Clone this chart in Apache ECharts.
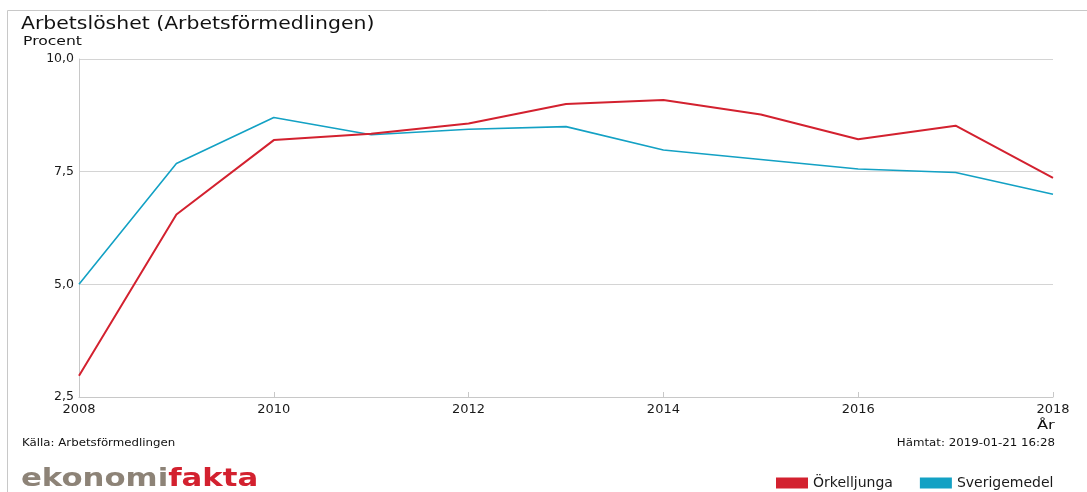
<!DOCTYPE html>
<html>
<head>
<meta charset="utf-8">
<script src="https://cdn.jsdelivr.net/npm/echarts@6/dist/echarts.min.js"></script>
<style>
  html, body { margin: 0; padding: 0; background: #fff; }
  #chart { width: 1087px; height: 492px; }
</style>
</head>
<body>
<div id="chart"></div>
<script>
  // år och värden
  const years = [2008, 2009, 2010, 2011, 2012, 2013, 2014, 2015, 2016, 2017, 2018];
  const orkelljunga = [2.97, 6.55, 8.2, 8.34, 8.57, 9.0, 9.09, 8.77, 8.22, 8.52, 7.36];
  const sverigemedel = [5.0, 7.68, 8.7, 8.32, 8.44, 8.5, 7.98, 7.77, 7.56, 7.48, 7.0];
  const seriesNames = ['Örkelljunga', 'Sverigemedel'];
  const seriesColors = ['#d3212f', '#13a1c4'];

  const chart = echarts.init(document.getElementById('chart'));
  const font = '"DejaVu Sans", Arial, sans-serif';

  // hjälp för breda texter (originalet är horisontellt utdraget)
  const label = (text, x, y, size, opts = {}) => ({
    type: 'text',
    x: x,
    y: y,
    scaleX: opts.scaleX || 1.2,
    style: {
      text: text,
      fill: opts.fill || '#111',
      font: (opts.weight || 'normal') + ' ' + size + 'px ' + font,
      align: opts.align || 'left',
      verticalAlign: 'middle',
      rich: opts.rich,
    },
  });

  const option = {
    animation: false,
    textStyle: { fontFamily: font },
    grid: { left: 79, right: 34, top: 59, bottom: 95 },
    xAxis: {
      type: 'value',
      min: 2008,
      max: 2018,
      interval: 2,
      axisLine: { show: true, lineStyle: { color: '#c8c8c8', width: 1 } },
      axisTick: { show: true, inside: true, length: 5, lineStyle: { color: '#c8c8c8' } },
      splitLine: { show: false },
      axisLabel: { color: '#1a1a1a', fontSize: 13, fontFamily: font, margin: 6, formatter: (v) => String(v) },
    },
    yAxis: {
      type: 'value',
      min: 2.5,
      max: 10,
      interval: 2.5,
      axisLine: { show: true, lineStyle: { color: '#c8c8c8', width: 1 } },
      axisTick: { show: false },
      splitLine: { show: true, lineStyle: { color: '#d4d4d4', width: 1 } },
      axisLabel: {
        color: '#1a1a1a', fontSize: 12.5, fontFamily: font, margin: 5,
        formatter: (v) => v.toFixed(1).replace('.', ','),
      },
    },
    series: [
      {
        name: seriesNames[0],
        type: 'line',
        data: years.map((y, i) => [y, orkelljunga[i]]),
        symbol: 'none',
        lineStyle: { color: seriesColors[0], width: 2 },
        itemStyle: { color: seriesColors[0] },
        z: 3,
      },
      {
        name: seriesNames[1],
        type: 'line',
        data: years.map((y, i) => [y, sverigemedel[i]]),
        symbol: 'none',
        lineStyle: { color: seriesColors[1], width: 1.6 },
        itemStyle: { color: seriesColors[1] },
        z: 2,
      },
    ],
    legend: {
      data: seriesNames,
      left: 776,
      top: 476,
      padding: 0,
      itemWidth: 32,
      itemHeight: 11,
      itemGap: 27,
      icon: 'rect',
      textStyle: { color: '#1a1a1a', fontSize: 14, fontFamily: font },
    },
    graphic: [
      // ram
      { type: 'line', shape: { x1: 7.5, y1: 10.5, x2: 1087, y2: 10.5 }, style: { stroke: '#c8c8c8', lineWidth: 1 } },
      { type: 'line', shape: { x1: 7.5, y1: 10.5, x2: 7.5, y2: 492 }, style: { stroke: '#c8c8c8', lineWidth: 1 } },
      label('Arbetslöshet (Arbetsförmedlingen)', 21, 25, 17),
      label('Procent', 23, 42, 13),
      label('År', 1037, 426, 13, { scaleX: 1.25 }),
      label('Källa: Arbetsförmedlingen', 22, 443.5, 10, { scaleX: 1.18 }),
      label('Hämtat: 2019-01-21 16:28', 1055, 443.5, 10, { scaleX: 1.18, align: 'right' }),
      label('{a|ekonomi}{b|fakta}', 21, 479, 25, {
        scaleX: 1.23,
        weight: 'bold',
        rich: {
          a: { fill: '#8d8377', font: 'bold 25px ' + font },
          b: { fill: '#d3212f', font: 'bold 25px ' + font },
        },
      }),
    ],
  };

  chart.setOption(option);
</script>
</body>
</html>
